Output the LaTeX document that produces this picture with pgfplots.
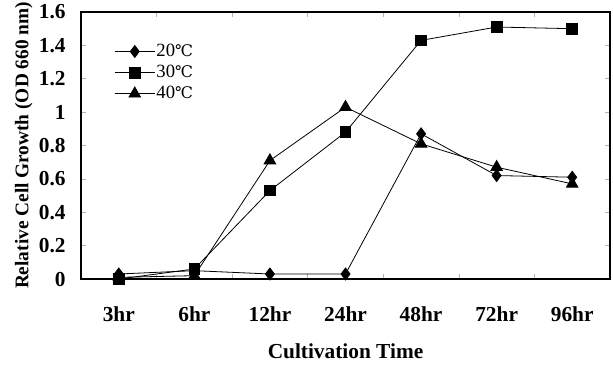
\documentclass[border=0pt]{standalone}
\usepackage{pgfplots}
\pgfplotsset{compat=1.18}
\usepackage{fontspec}
\setmainfont{Liberation Serif}
\newfontfamily\degfont{DejaVu Serif}
\newcommand{\degC}{{\degfont\fontsize{12pt}{13pt}\selectfont ℃}}
\begin{document}
\begin{tikzpicture}
\begin{axis}[
  scale only axis,
  width=396.75pt, height=200.25pt,
  xmin=-0.5, xmax=6.5, ymin=0, ymax=1.6,
  xtick={0,1,2,3,4,5,6},
  xticklabels={3hr,6hr,12hr,24hr,48hr,72hr,96hr},
  minor xtick={0.5,1.5,2.5,3.5,4.5,5.5},
  ytick={0,0.2,0.4,0.6,0.8,1,1.2,1.4,1.6},
  yticklabels={0,0.2,0.4,0.6,0.8,1,1.2,1.4,1.6},
  major x tick style={draw=none},
  minor x tick style={gray!60, thin},
  major y tick style={gray!60, thin},
  minor tick length=4pt, major tick length=4pt,
  tick align=inside,
  axis line style={black, line width=1.4pt},
  ticklabel style={font=\bfseries\fontsize{16pt}{18pt}\selectfont},
  xticklabel style={yshift=-17pt},
  yticklabel style={xshift=-8pt},
  /pgf/number format/assume math mode=true,
  xlabel={\bfseries\fontsize{16pt}{18pt}\selectfont Cultivation Time},
  xlabel style={yshift=-10pt},
  ylabel={\bfseries\fontsize{14.5pt}{16pt}\selectfont Relative Cell Growth (OD 660 nm)},
  ylabel style={yshift=-2pt},
  legend style={at={(0.055,0.895)}, anchor=north west, draw=none, fill=none,
    font=\fontsize{14pt}{16pt}\selectfont, row sep=3pt,
    nodes={inner sep=1pt}},
  legend image code/.code={\draw[mark repeat=2,mark phase=2,#1] plot coordinates {(0pt,0pt) (15pt,0pt) (30pt,0pt)};},
  legend cell align=left,
  every axis plot/.append style={black, line width=0.6pt},
]
\addplot[mark=diamond*, mark size=4.5pt, mark options={fill=black}] coordinates {
(0,0.03) (1,0.05) (2,0.03) (3,0.03) (4,0.87) (5,0.62) (6,0.61)};
\addlegendentry{20\degC}
\addplot[mark=square*, mark size=4pt, mark options={fill=black}] coordinates {
(0,0.0) (1,0.06) (2,0.53) (3,0.88) (4,1.43) (5,1.51) (6,1.50)};
\addlegendentry{30\degC}
\addplot[mark=triangle*, mark size=5pt, mark options={fill=black}] coordinates {
(0,0.01) (1,0.02) (2,0.71) (3,1.03) (4,0.81) (5,0.67) (6,0.57)};
\addlegendentry{40\degC}
\end{axis}
\pgfresetboundingbox
\path ([xshift=-60.75pt, yshift=-64.5pt]current axis.south west) rectangle ([xshift=2.25pt, yshift=9pt]current axis.north east);
\end{tikzpicture}
\end{document}
